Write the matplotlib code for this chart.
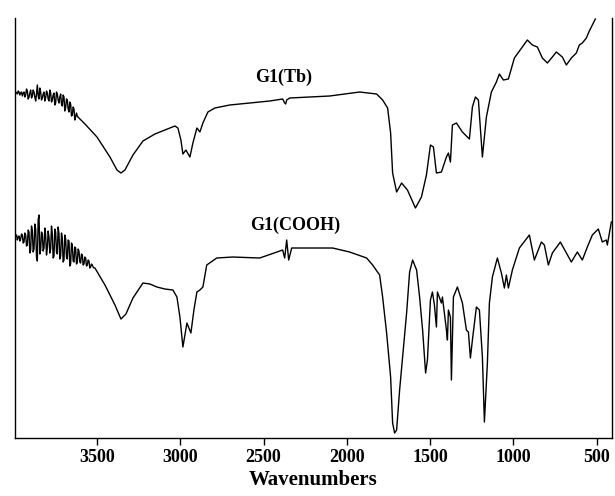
import numpy as np
import matplotlib
matplotlib.use("Agg")
from matplotlib import pyplot as plt

# noisy high-wavenumber region, sampled every 5 cm-1
noise_wn = [3998, 3993, 3988, 3983, 3978, 3973, 3968, 3963, 3958, 3953,
            3948, 3943, 3938, 3933, 3928, 3923, 3918, 3913, 3908, 3903,
            3898, 3893, 3888, 3883, 3878, 3873, 3868, 3863, 3858, 3853,
            3848, 3843, 3838, 3833, 3828, 3823, 3818, 3813, 3808, 3803,
            3798, 3793, 3788, 3783, 3778, 3773, 3768, 3763, 3758, 3753,
            3748, 3743, 3738, 3733, 3728, 3723, 3718, 3713, 3708, 3703,
            3698, 3693, 3688, 3683, 3678, 3673, 3668, 3663, 3658, 3653,
            3648, 3643, 3638, 3633, 3628, 3623, 3618, 3613, 3608, 3603,
            3598, 3593, 3588, 3583, 3578, 3573, 3568, 3563, 3558, 3553,
            3548, 3543, 3538, 3533, 3528, 3523, 3518]

# ---- G1(Tb) spectrum (wavenumber, relative transmittance) ----
tb_noise_t = [345, 344, 346, 345, 344, 347, 346, 343, 345, 346,
              342, 345, 346, 341, 343, 349, 347, 339, 341, 345,
              348, 340, 342, 348, 346, 341, 337, 344, 353, 342,
              339, 350, 346, 338, 340, 344, 346, 337, 340, 347,
              345, 339, 337, 348, 345, 336, 338, 343, 345, 333,
              335, 346, 344, 338, 335, 341, 344, 334, 332, 343,
              341, 327, 330, 339, 338, 329, 326, 336, 334, 322,
              323, 331, 329, 318, 321, 325, 322]
tb_wn = [3614, 3572, 3500, 3422, 3380, 3356, 3332, 3284, 3224, 3152,
         3092, 3032, 3014, 2996, 2984, 2966, 2942, 2924, 2900, 2882,
         2864, 2834, 2792, 2703, 2583, 2463, 2385, 2373, 2367, 2361,
         2343, 2223, 2103, 1923, 1821, 1785, 1755, 1737, 1725, 1701,
         1671, 1636, 1588, 1552, 1522, 1498, 1480, 1462, 1432, 1402,
         1390, 1378, 1366, 1342, 1306, 1264, 1246, 1228, 1210, 1186,
         1162, 1132, 1102, 1084, 1060, 1030, 994, 946, 916, 886,
         856, 826, 796, 766, 742, 706, 682, 652, 622, 604,
         586, 562, 544, 526, 508]
tb_t = [321, 314, 301, 281, 268, 265, 268, 283, 297, 304,
        308, 312, 310, 298, 284, 288, 281, 295, 310, 306,
        315, 326, 330, 333, 335, 337, 339, 335, 334, 338,
        340, 341, 342, 346, 344, 338, 330, 305, 265, 246,
        255, 248, 230, 241, 263, 293, 291, 265, 266, 281,
        285, 276, 313, 315, 306, 299, 331, 341, 338, 281,
        321, 346, 356, 364, 358, 359, 380, 391, 398, 393,
        391, 380, 375, 381, 386, 381, 373, 380, 385, 393,
        395, 400, 407, 413, 419]

# ---- G1(COOH) spectrum ----
cooh_noise_t = [201, 199, 202, 203, 198, 201, 202, 197, 199, 204,
                203, 195, 196, 205, 203, 192, 193, 208, 206, 185,
                188, 212, 207, 186, 189, 214, 209, 181, 177, 218,
                223, 184, 188, 206, 204, 187, 190, 210, 203, 183,
                190, 207, 201, 185, 189, 212, 204, 180, 182, 209,
                206, 186, 184, 211, 204, 179, 182, 205, 200, 176,
                178, 203, 199, 181, 179, 198, 197, 172, 174, 195,
                193, 177, 176, 191, 190, 174, 176, 189, 187, 176,
                175, 184, 183, 173, 174, 181, 180, 172, 173, 178,
                177, 170, 171, 174, 173, 171, 170]
cooh_wn = [3512, 3452, 3392, 3356, 3326, 3284, 3224, 3182, 3140, 3092,
           3044, 3020, 3002, 2984, 2960, 2936, 2918, 2900, 2882, 2864,
           2841, 2781, 2685, 2523, 2421, 2385, 2373, 2361, 2349, 2331,
           2283, 2085, 1983, 1881, 1845, 1803, 1785, 1761, 1737, 1725,
           1713, 1701, 1683, 1665, 1641, 1623, 1605, 1581, 1563, 1545,
           1527, 1516, 1498, 1486, 1474, 1462, 1456, 1432, 1426, 1402,
           1396, 1390, 1378, 1372, 1360, 1336, 1306, 1282, 1270, 1258,
           1246, 1222, 1204, 1186, 1174, 1156, 1144, 1126, 1096, 1072,
           1054, 1042, 1030, 1006, 964, 904, 874, 832, 814, 790,
           766, 718, 682, 652, 616, 586, 556, 526, 490, 466,
           442, 436, 412]
cooh_t = [170, 153, 133, 119, 124, 140, 155, 154, 151, 149,
          148, 141, 121, 91, 115, 105, 128, 146, 148, 151,
          173, 180, 181, 180, 186, 188, 180, 198, 178, 190,
          190, 190, 186, 180, 173, 163, 141, 105, 61, 15,
          5, 8, 48, 81, 125, 166, 178, 168, 141, 108,
          65, 78, 138, 146, 133, 111, 146, 135, 141, 108,
          98, 128, 121, 58, 141, 151, 135, 108, 106, 80,
          98, 131, 128, 81, 16, 75, 135, 161, 180, 165,
          150, 163, 150, 168, 190, 203, 178, 196, 193, 173,
          185, 196, 185, 176, 186, 178, 191, 203, 209, 196,
          198, 193, 216]

labels = ["G1(Tb)", "G1(COOH)"]
label_pos = [(2379, 361), (2307, 213)]
xticks = [3500, 3000, 2500, 2000, 1500, 1000, 500]

plt.rcParams['font.family'] = ['Liberation Serif', 'DejaVu Serif']

fig = plt.figure(figsize=(6.15, 4.96), dpi=100)
ax = fig.add_axes([0.0236, 0.1169, 0.9715, 0.8468])

n_tb = len(tb_noise_t)
ax.plot(noise_wn[:n_tb] + tb_wn, tb_noise_t + tb_t, color='black', lw=1.0)
ax.plot(noise_wn + cooh_wn, cooh_noise_t + cooh_t, color='black', lw=1.0)

for lbl, (x, y) in zip(labels, label_pos):
    ax.text(x, y, lbl, ha='center', va='center', fontsize=13, fontweight='bold')

ax.set_xlim(3995, 408)
ax.set_ylim(0, 420)
ax.set_xticks(xticks)
ax.set_xticklabels([str(t) for t in xticks], fontsize=13, fontweight='bold')
ax.set_yticks([])
ax.tick_params(axis='x', direction='out', length=5, width=1, pad=3)
ax.spines['top'].set_visible(False)
for s in ['left', 'right', 'bottom']:
    ax.spines[s].set_linewidth(1)
ax.set_xlabel('Wavenumbers', fontsize=15, fontweight='bold', labelpad=3)

fig.savefig('out.png', dpi=100)
